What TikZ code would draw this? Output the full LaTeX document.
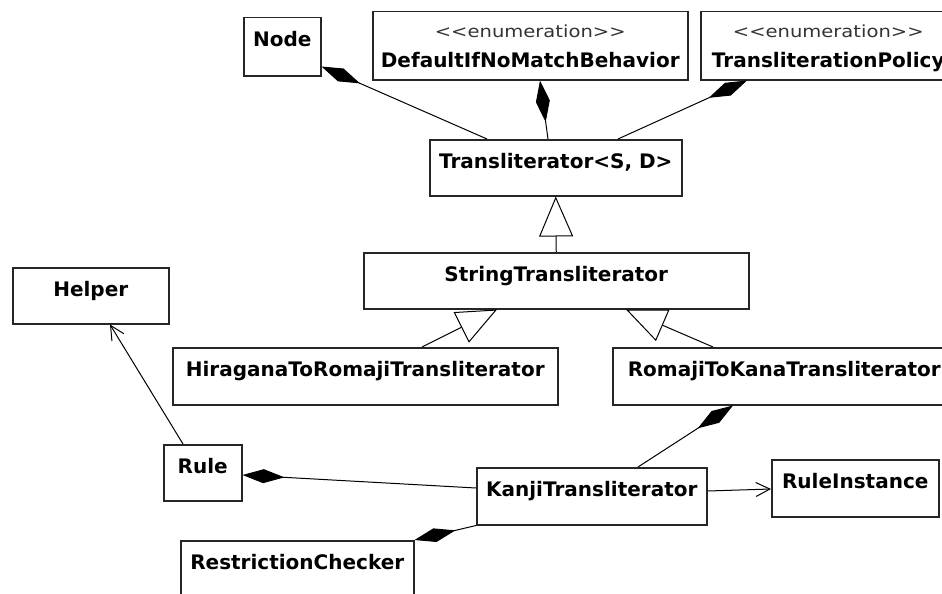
\documentclass[tikz,border=0pt]{standalone}
\usepackage{graphicx}
\usepackage{fontspec}
\setmainfont{DejaVu Sans}
\usetikzlibrary{arrows.meta,calc}
\newcommand\enumstereo{\scalebox{1.17}[1]{\mbox{<}\mbox{<}enumeration\mbox{>}\mbox{>}}}
\begin{document}
\begin{tikzpicture}[x=1pt,y=-1pt,
  cls/.style={draw=black!85, line width=1.5pt, anchor=north west, inner sep=0pt,
    font=\fontsize{20pt}{24pt}\selectfont\bfseries, text=black, text height=29pt},
  stereo/.style={anchor=base, inner sep=0pt, font=\fontsize{16.7pt}{20pt}\selectfont, text=black!80},
  conn/.style={draw=black, line width=1pt},
  comp/.style={conn, -{Diamond[length=42pt,width=14pt,fill=black]}},
  gen/.style={conn, -{Triangle[open,length=40pt,width=34pt,fill=white]}},
  dep/.style={conn, -{Straight Barb[length=14pt,width=14pt]}},
]
\useasboundingbox (0,0) rectangle (942,594);
\fill[white] (0,0) rectangle (942,594);
\clip (0,0) rectangle (942,594);

\node[cls, minimum width=77pt, text depth=29pt] (nodeA) at (243,17) {Node};
\node[cls, minimum width=315pt, text height=56pt, text depth=12pt] (dflt) at (372,11) {DefaultIfNoMatchBehavior};
\node[stereo] (dfltS) at ($(dflt.north)+(0,27)$) {\enumstereo};
\node[cls, minimum width=255pt, text height=56pt, text depth=12pt] (policy) at (700,11) {TransliterationPolicy};
\node[stereo] (policyS) at ($(policy.north)+(0,27)$) {\enumstereo};
\node[cls, minimum width=252pt, text depth=27pt] (trans) at (429,139) {Transliterator<S, D>};
\node[cls, minimum width=385pt, text depth=27pt] (strt) at (363,252) {StringTransliterator};
\node[cls, minimum width=156pt, text depth=27pt] (helper) at (12,267) {Helper};
\node[cls, minimum width=385pt, text depth=28pt] (hira) at (172,347) {HiraganaToRomajiTransliterator};
\node[cls, minimum width=343pt, text depth=28pt] (rtk) at (612,347) {RomajiToKanaTransliterator};
\node[cls, minimum width=78pt, text depth=27pt] (rule) at (163,444) {Rule};
\node[cls, minimum width=230pt, text depth=28pt] (kanji) at (476,467) {KanjiTransliterator};
\node[cls, minimum width=167pt, text depth=28pt] (ruleinst) at (771,459) {RuleInstance};
\node[cls, minimum width=233pt, text depth=31pt] (restr) at (180,540) {RestrictionChecker};

\draw[comp] ($(trans.north west)+(58,0)$) -- ($(nodeA.south east)+(0,-10)$);
\draw[comp] ($(trans.north west)+(119,0)$) -- ($(dflt.south west)+(168,0)$);
\draw[comp] ($(trans.north west)+(189,0)$) -- ($(policy.south west)+(47,0)$);
\draw[gen] (strt.north) -- (trans.south);
\draw[gen] ($(hira.north west)+(250,0)$) -- ($(strt.south west)+(134,0)$);
\draw[gen] ($(rtk.north west)+(101,0)$) -- ($(strt.south west)+(263,0)$);
\draw[comp] ($(kanji.north west)+(162,0)$) -- ($(rtk.south west)+(121,0)$);
\draw[comp] ($(kanji.north west)+(0,21)$) -- ($(rule.north east)+(0,31)$);
\draw[comp] (kanji.south west) -- (restr.north east);
\draw[dep] ($(kanji.north east)+(0,24)$) -- ($(ruleinst.north west)+(0,30)$);
\draw[dep] ($(rule.north west)+(20,0)$) -- ($(helper.south west)+(98,0)$);
\end{tikzpicture}
\end{document}
